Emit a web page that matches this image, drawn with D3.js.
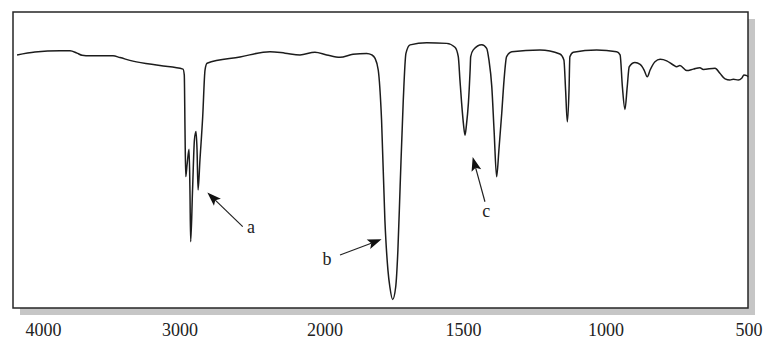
<!DOCTYPE html>
<html>
<head>
<meta charset="utf-8">
<script src="https://cdn.jsdelivr.net/npm/d3@7"></script>
<style>
  body { margin: 0; background: #fff; }
  svg { display: block; }
  .lbl { font-family: "Liberation Serif", "DejaVu Serif", serif; font-size: 18px; fill: #222; }
</style>
</head>
<body>
<svg width="778" height="353"></svg>
<script>
// spectrum (wavenumber in cm-1, transmittance in %)
const wavenumbers = [
  4190, 4059, 3875, 3802, 3751, 3714, 3656, 3487, 3436, 3341, 3143,
  2976, 2967, 2962, 2957, 2948, 2934, 2928, 2923, 2910, 2897, 2886, 2879, 2872,
  2859, 2840, 2824, 2810, 2583, 2376, 2272, 2169, 2066,
  1992, 1944, 1897, 1848, 1829, 1818, 1806, 1794, 1782, 1771, 1764, 1754, 1743,
  1735, 1727, 1716, 1706, 1691, 1631, 1559, 1529, 1517, 1511, 1505,
  1498, 1493, 1488, 1481, 1475, 1473, 1464, 1434, 1417, 1409, 1399, 1391, 1382,
  1374, 1364, 1356, 1347, 1329, 1230, 1160, 1146, 1140, 1134, 1128, 1125, 1113,
  1031, 961, 949, 941, 932, 924, 917, 897, 879, 865, 854, 844, 827, 809, 786,
  763, 751, 740, 716, 693, 670, 658, 617, 600, 582, 565, 553, 536, 524, 516, 506, 501
];
const transmittance = [
  85.5, 86.5, 86.9, 86.9, 86.1, 85.4, 85.2, 85.2, 84.6, 83.4, 81.9,
  80.7, 78.7, 60.1, 44.4, 48.3, 53.6, 39.9, 22.4, 39.9, 56.8, 59.6, 53.4, 39.9,
  50.0, 64.6, 80.4, 82.7, 84.8, 86.6, 86.1, 85.5, 86.4,
  85.5, 84.7, 85.7, 86.0, 85.5, 84.4, 80.4, 63.5, 29.7, 12.8, 7.1, 2.9, 7.1,
  19.6, 41.0, 69.3, 86.0, 88.9, 89.6, 89.4, 88.1, 84.9, 77.0, 69.3,
  61.8, 58.4, 61.8, 69.3, 80.4, 84.9, 87.2, 88.9, 87.7, 83.8, 74.8, 60.1, 44.3,
  53.4, 65.9, 77.0, 84.9, 86.6, 87.2, 85.8, 83.8, 73.6, 62.9, 73.6, 84.9, 86.4,
  87.2, 86.6, 85.5, 74.8, 67.1, 74.8, 81.5, 82.9, 82.3, 80.4, 78.1, 80.4, 83.2, 84.0, 83.5,
  82.1, 81.5, 81.9, 80.2, 80.7, 81.2, 80.6, 81.0, 79.3, 77.4, 77.0, 77.3, 77.0, 77.6, 78.7, 78.5, 78.1
];

// tick labels (the axis changes scale at 2000 cm-1)
const tickValues = [4000, 3000, 2000, 1500, 1000, 500];

// annotated bands: arrow head, arrow tail and label position (wavenumber, %T)
const noteLabels = ["a", "b", "c"];
const noteHead = [[2808, 39.0], [1794, 23.2], [1466, 51.0]];
const noteTail = [[2564, 27.5], [1944, 17.9], [1423, 35.9]];
const noteText = [[2507, 25.3], [1991, 14.4], [1418, 30.7]];

const svg = d3.select("svg");
const box = { left: 13, top: 12, width: 735, height: 296 };

const x = d3.scaleLinear()
  .domain(tickValues)
  .range([43, 179.5, 324.5, 463, 605.5, 748.5]);

const y = d3.scaleLinear()
  .domain([0, 100])
  .range([box.top + box.height, box.top]);

// drop shadow + frame
svg.append("rect")
  .attr("x", box.left + 7)
  .attr("y", box.top + 7)
  .attr("width", box.width)
  .attr("height", box.height)
  .attr("fill", "#c6c6c6");

svg.append("rect")
  .attr("x", box.left)
  .attr("y", box.top)
  .attr("width", box.width)
  .attr("height", box.height)
  .attr("fill", "#fff")
  .attr("stroke", "#262626")
  .attr("stroke-width", 1.5);

// spectrum
const points = wavenumbers.map((w, i) => [w, transmittance[i]]);

const line = d3.line()
  .x(d => x(d[0]))
  .y(d => y(d[1]))
  .curve(d3.curveMonotoneX);

svg.append("path")
  .datum(points)
  .attr("d", line)
  .attr("fill", "none")
  .attr("stroke", "#1c1c1c")
  .attr("stroke-width", 1.5)
  .attr("stroke-linejoin", "round");

// bottom labels, no ticks or axis line
const axis = svg.append("g")
  .attr("transform", "translate(0,336)")
  .call(d3.axisBottom(x).tickValues(tickValues).tickSize(0).tickPadding(0).tickFormat(d3.format("d")));

axis.attr("font-family", null).attr("font-size", null);
axis.select(".domain").remove();
axis.selectAll("text")
  .attr("dy", 0)
  .attr("fill", null)
  .attr("class", "lbl");

// arrows
noteLabels.forEach((lab, i) => {
  const hx = x(noteHead[i][0]), hy = y(noteHead[i][1]);
  const tx = x(noteTail[i][0]), ty = y(noteTail[i][1]);
  const ang = Math.atan2(hy - ty, hx - tx);
  const len = 14, half = 5;
  const c = Math.cos(ang), s = Math.sin(ang);
  const bx = hx - len * c, by = hy - len * s;
  const px = -s * half, py = c * half;

  svg.append("line")
    .attr("x1", tx).attr("y1", ty)
    .attr("x2", bx + 3 * c).attr("y2", by + 3 * s)
    .attr("stroke", "#222")
    .attr("stroke-width", 1.2);

  svg.append("path")
    .attr("d", `M${hx},${hy}L${bx + px},${by + py}L${bx + 3 * c},${by + 3 * s}L${bx - px},${by - py}Z`)
    .attr("fill", "#111");

  svg.append("text")
    .attr("class", "lbl")
    .attr("x", x(noteText[i][0]))
    .attr("y", y(noteText[i][1]))
    .attr("text-anchor", "middle")
    .text(lab);
});
</script>
</body>
</html>
